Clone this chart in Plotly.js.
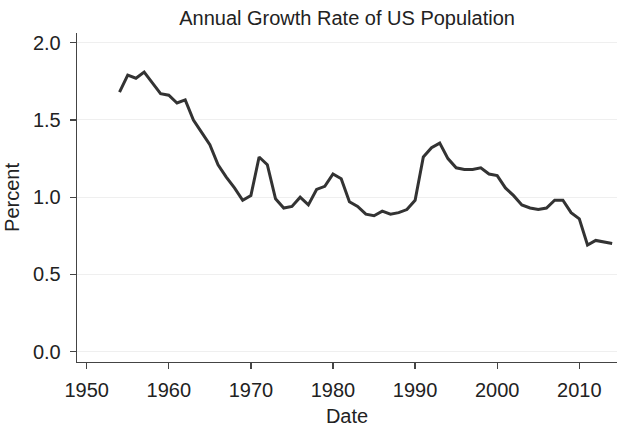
<!DOCTYPE html>
<html>
<head>
<meta charset="utf-8">
<script src="https://cdn.plot.ly/plotly-3.0.1.min.js"></script>
<style>html,body{margin:0;padding:0;background:#fff;}#chart{width:617px;height:427px;}</style>
</head>
<body>
<div id="chart"></div>
<script>
const years = [1954,1955,1956,1957,1958,1959,1960,1961,1962,1963,1964,1965,1966,1967,1968,1969,1970,1971,1972,1973,1974,1975,1976,1977,1978,1979,1980,1981,1982,1983,1984,1985,1986,1987,1988,1989,1990,1991,1992,1993,1994,1995,1996,1997,1998,1999,2000,2001,2002,2003,2004,2005,2006,2007,2008,2009,2010,2011,2012,2013,2014];
const growth = [1.68,1.79,1.77,1.81,1.74,1.67,1.66,1.61,1.63,1.50,1.42,1.34,1.21,1.13,1.06,0.98,1.01,1.26,1.21,0.99,0.93,0.94,1.00,0.95,1.05,1.07,1.15,1.12,0.97,0.94,0.89,0.88,0.91,0.89,0.90,0.92,0.98,1.26,1.32,1.35,1.25,1.19,1.18,1.18,1.19,1.15,1.14,1.06,1.01,0.95,0.93,0.92,0.93,0.98,0.98,0.90,0.86,0.69,0.72,0.71,0.70];
const xTicks = [1950,1960,1970,1980,1990,2000,2010];
const yTicks = [0,0.5,1,1.5,2];
const yTickText = ["0.0","0.5","1.0","1.5","2.0"];

const font = {family: "Liberation Sans, Arial, Helvetica, sans-serif", size: 20, color: "#222"};
const axisCommon = {
  showline: true, linecolor: "#444", linewidth: 1.3, mirror: false,
  ticks: "outside", ticklen: 6, tickwidth: 1.3, tickcolor: "#444",
  zeroline: false, tickfont: font
};

Plotly.newPlot("chart", [{
  x: years, y: growth, type: "scatter", mode: "lines",
  line: {color: "#333333", width: 3}, hoverinfo: "skip"
}], {
  width: 617, height: 427,
  margin: {l: 77, r: 0, t: 33, b: 65, pad: 0},
  paper_bgcolor: "#fff", plot_bgcolor: "#fff",
  showlegend: false, font: font,
  title: {text: "Annual Growth Rate of US Population", font: font, x: 0.5625, xanchor: "center", y: 0.958, yanchor: "middle"},
  xaxis: Object.assign({}, axisCommon, {
    range: [1948.82, 2014.59], tickvals: xTicks, showgrid: false,
    title: {text: "Date", font: font, standoff: 8}, ticklabelstandoff: 4
  }),
  yaxis: Object.assign({}, axisCommon, {
    range: [-0.067, 2.063], tickvals: yTicks, ticktext: yTickText,
    showgrid: true, gridcolor: "#efefef", gridwidth: 1,
    title: {text: "Percent", font: font, standoff: 8}, ticklabelstandoff: 5
  })
}, {staticPlot: true});
</script>
</body>
</html>
